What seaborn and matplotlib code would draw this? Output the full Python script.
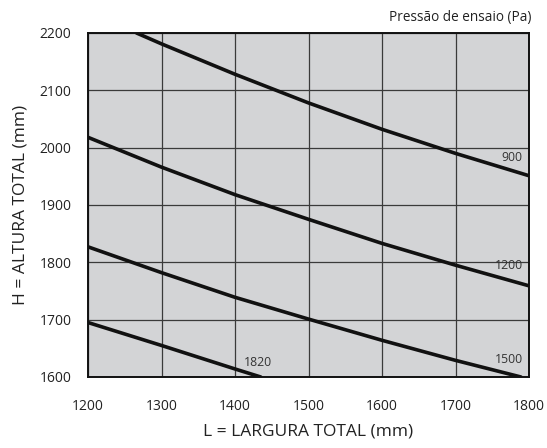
import matplotlib
matplotlib.use("Agg")
import matplotlib.pyplot as plt
import seaborn as sns
import pandas as pd

# curve readings, L (mm) vs H (mm) per test pressure (Pa)
x_900 = [1266, 1300, 1400, 1500, 1600, 1700, 1800]
y_900 = [2200, 2181, 2128, 2078, 2032, 1990, 1951]
x_1200 = [1200, 1300, 1400, 1500, 1600, 1700, 1800]
y_1200 = [2018, 1966, 1918, 1875, 1833, 1795, 1759]
x_1500 = [1200, 1300, 1400, 1500, 1600, 1700, 1789]
y_1500 = [1827, 1782, 1739, 1701, 1664, 1629, 1600]
x_1820 = [1200, 1300, 1400, 1435]
y_1820 = [1695, 1655, 1614, 1600]
pressures = ["900", "1200", "1500", "1820"]
label_x = [1777, 1773, 1772, 1431]
label_y = [1983, 1794, 1630, 1626]

frames = []
for p, xs, ys in zip(pressures, [x_900, x_1200, x_1500, x_1820],
                     [y_900, y_1200, y_1500, y_1820]):
    frames.append(pd.DataFrame({"L": xs, "H": ys, "Pressao": p}))
df = pd.concat(frames, ignore_index=True)

sns.set_theme(style="white")
plt.rcParams["font.family"] = ["Open Sans", "DejaVu Sans"]

fig = plt.figure(figsize=(5.47, 4.48), dpi=100)
ax = fig.add_axes([0.1609, 0.1585, 0.8062, 0.7679])
ax.set_facecolor("#d3d4d6")

sns.lineplot(data=df, x="L", y="H", units="Pressao", estimator=None,
             color="#111111", linewidth=2.6, sort=False, ax=ax, legend=False)

for p, lx, ly in zip(pressures, label_x, label_y):
    ax.text(lx, ly, p, fontsize=8.8, color="#333333", ha="center", va="center")

ax.set_xlim(1200, 1800)
ax.set_ylim(1600, 2200)
ax.set_xticks(range(1200, 1801, 100))
ax.set_yticks(range(1600, 2201, 100))
ax.grid(True, color="#3a3a3a", linewidth=0.9)
ax.tick_params(axis="both", length=0, labelsize=10, colors="#222222")
ax.tick_params(axis="x", pad=16)
ax.tick_params(axis="y", pad=12)
for s in ax.spines.values():
    s.set_color("#111111")
    s.set_linewidth(1.4)

ax.set_xlabel("L = LARGURA TOTAL (mm)", fontsize=12.5, color="#222222", labelpad=7)
ax.set_ylabel("H = ALTURA TOTAL (mm)", fontsize=12.5, color="#222222", labelpad=8)
fig.text(0.972, 0.961, "Pressão de ensaio (Pa)", fontsize=9.8, color="#222222",
         ha="right", va="center")

fig.savefig("out.png", dpi=100)
